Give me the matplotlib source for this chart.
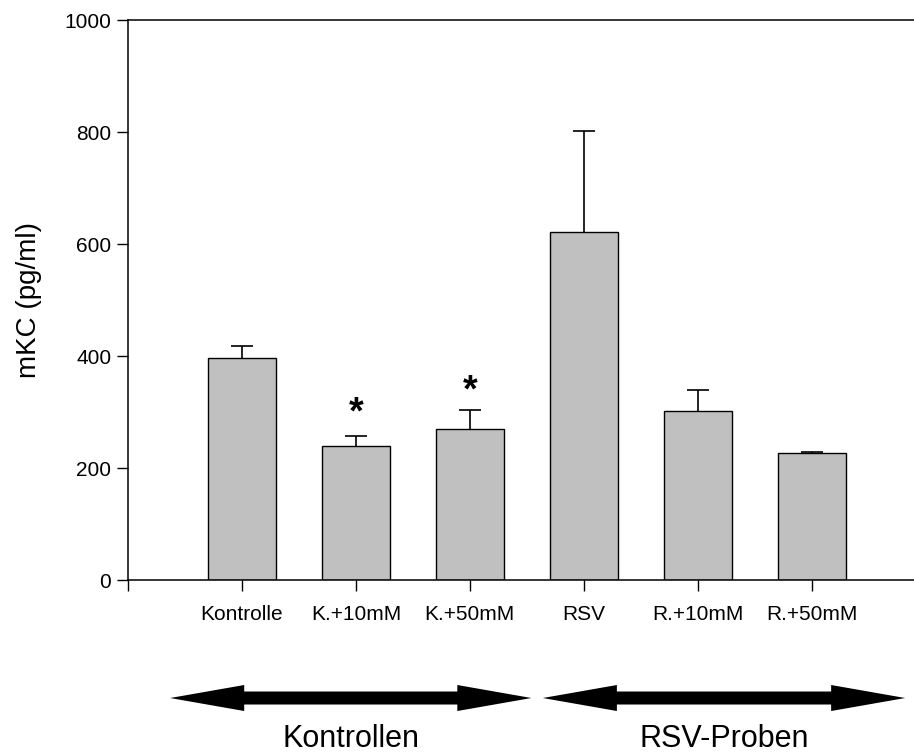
"""mKC concentration in control and RSV samples, bar chart with SE."""
import matplotlib.pyplot as plt
from matplotlib.patches import Polygon
from matplotlib.transforms import blended_transform_factory

plt.rcParams["font.family"] = ["Liberation Sans", "DejaVu Sans"]

groups = ["Kontrolle", "K.+10mM", "K.+50mM", "RSV", "R.+10mM", "R.+50mM"]
means = [396, 240, 269, 621, 302, 227]
errors = [22, 18, 35, 181, 38, 2]
significant = [False, True, True, False, False, False]
star_levels = [0, 297, 336, 0, 0, 0]

# bracket arrows below the axis: (label, start, end) in bar units
sections = [("Kontrollen", 0.37, 3.54), ("RSV-Proben", 3.64, 6.82)]


def draw_double_arrow(ax, trans, x0, x1, y, head_len=0.65, head_h=0.0172, shaft_h=0.0086):
    """Filled double-headed arrow, x in data units, y in figure fraction."""
    pts = [
        (x0, y),
        (x0 + head_len, y + head_h),
        (x0 + head_len, y + shaft_h),
        (x1 - head_len, y + shaft_h),
        (x1 - head_len, y + head_h),
        (x1, y),
        (x1 - head_len, y - head_h),
        (x1 - head_len, y - shaft_h),
        (x0 + head_len, y - shaft_h),
        (x0 + head_len, y - head_h),
    ]
    ax.add_patch(Polygon(pts, closed=True, facecolor="black", edgecolor="none",
                         transform=trans, clip_on=False))


def main():
    fig = plt.figure(figsize=(9.14, 7.56), dpi=100)
    ax = fig.add_axes([0.140, 0.2328, 0.8666, 0.7407])

    xs = list(range(1, len(groups) + 1))
    ax.bar(xs, means, width=0.6, color="#c0c0c0", edgecolor="black", linewidth=1.0, zorder=2)
    # upper error only: hide the cap that sits on the bar top
    _, caps, _ = ax.errorbar(xs, means, yerr=[[0] * len(errors), errors], fmt="none",
                             ecolor="black", elinewidth=1.2, capsize=8, capthick=1.2, zorder=1)
    caps[0].set_visible(False)

    for x, sig, lvl in zip(xs, significant, star_levels):
        if sig:
            ax.text(x, lvl, "*", ha="center", va="center", fontsize=27, fontweight="bold")

    ax.set_xlim(0, 6.95)
    ax.set_ylim(0, 1000)
    ax.set_xticks([0] + xs)
    ax.set_xticklabels([""] + groups, fontsize=15)
    ax.set_yticks(range(0, 1001, 200))
    ax.tick_params(axis="y", labelsize=15, length=8, width=1.0, pad=4)
    ax.tick_params(axis="x", length=8, width=1.0, pad=10)
    ax.spines["right"].set_visible(False)
    for side in ["left", "bottom", "top"]:
        ax.spines[side].set_linewidth(1.1)
    ax.set_ylabel("mKC (pg/ml)", fontsize=20, labelpad=16)

    trans = blended_transform_factory(ax.transData, fig.transFigure)
    for label, start, end in sections:
        draw_double_arrow(ax, trans, start, end, 0.0767)
        ax.text((start + end) / 2, 0.002, label, transform=trans, ha="center",
                va="bottom", fontsize=22)

    fig.savefig("out.png", dpi=100)
    plt.close(fig)


if __name__ == "__main__":
    main()
